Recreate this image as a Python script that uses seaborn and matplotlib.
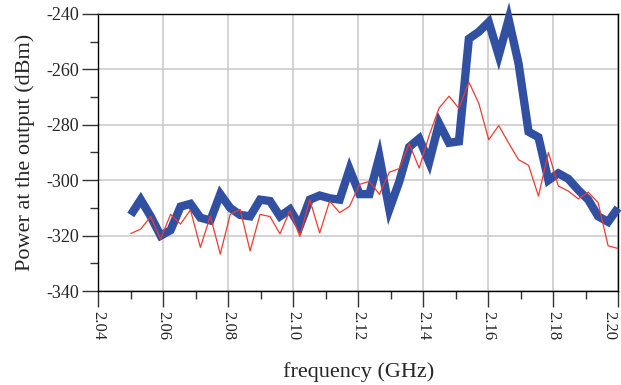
import matplotlib
matplotlib.use("Agg")
import matplotlib.pyplot as plt
import matplotlib.transforms as mtransforms
import seaborn as sns
import pandas as pd
from matplotlib.ticker import MultipleLocator, FormatStrFormatter

freq_ghz = [2.05, 2.05306, 2.05612, 2.05918, 2.06224, 2.06531, 2.06837, 2.07143,
            2.07449, 2.07755, 2.08061, 2.08367, 2.08673, 2.08980, 2.09286, 2.09592,
            2.09898, 2.10204, 2.10510, 2.10816, 2.11122, 2.11429, 2.11735, 2.12041,
            2.12347, 2.12653, 2.12959, 2.13265, 2.13571, 2.13878, 2.14184, 2.14490,
            2.14796, 2.15102, 2.15408, 2.15714, 2.16020, 2.16327, 2.16633, 2.16939,
            2.17245, 2.17551, 2.17857, 2.18163, 2.18469, 2.18776, 2.19082, 2.19388,
            2.19694, 2.20000]

power_blue = [-312.5, -307, -313, -320, -318, -309.5, -308.5, -313.5, -314.5, -305,
              -310, -312.5, -313, -307, -307.5, -313, -310.5, -316.5, -307, -305.5,
              -306.5, -307, -296, -305, -305, -291.5, -310.5, -300.5, -288, -285,
              -293.5, -279.5, -286.5, -286, -249, -246.5, -243, -255, -242, -258,
              -282.5, -284.5, -300, -297.5, -299.5, -303.5, -307, -313, -315, -310]

power_red = [-319.2, -317.6, -313.1, -321.2, -312.3, -315.8, -310.7, -324.2, -312.9, -326.6,
             -312.3, -310.5, -325.5, -312.3, -313.1, -319.3, -311, -320.2, -307, -319,
             -307.5, -311.7, -309.4, -301.5, -300.4, -305.1, -297.1, -295.8, -286.8, -295.6,
             -283.9, -274, -269.7, -274.1, -264.6, -272.3, -285.4, -280.3, -286.6, -292.6,
             -294.6, -305.7, -290, -302.1, -303.9, -306.7, -304.3, -308.1, -323.6, -324.6]

x_ticks = [2.04, 2.06, 2.08, 2.10, 2.12, 2.14, 2.16, 2.18, 2.20]
y_ticks = [-340, -320, -300, -280, -260, -240]

sns.set_style("ticks")
plt.rcParams["font.family"] = ["Liberation Serif", "DejaVu Serif"]
plt.rcParams["axes.unicode_minus"] = False

df = pd.DataFrame({"freq": freq_ghz, "blue": power_blue, "red": power_red})

fig = plt.figure(figsize=(6.21, 3.85), dpi=100)
ax = fig.add_axes([0.1583, 0.2436, 0.9952 - 0.1583, 0.9642 - 0.2436])

sns.lineplot(data=df, x="freq", y="blue", ax=ax, color="#3150a2", linewidth=6.0,
             solid_joinstyle="miter", solid_capstyle="butt", clip_on=False, zorder=3)
sns.lineplot(data=df, x="freq", y="red", ax=ax, color="#ee3a2e", linewidth=0.9, zorder=4)

ax.set_xlim(2.04, 2.20)
ax.set_ylim(-340, -240)
ax.set_xticks(x_ticks)
ax.set_yticks(y_ticks)
ax.xaxis.set_major_formatter(FormatStrFormatter("%.2f"))
ax.xaxis.set_minor_locator(MultipleLocator(0.01))
ax.yaxis.set_minor_locator(MultipleLocator(10))

ax.grid(True, which="major", color="#c8c8c8", linewidth=1.1)
ax.set_axisbelow(True)
for s in ax.spines.values():
    s.set_color("black")
    s.set_linewidth(1.0)

ax.tick_params(axis="both", which="major", direction="out", length=11.5, width=1.0,
               color="#333333", labelsize=13, pad=2.5)
ax.tick_params(axis="x", which="major", labelsize=12)
ax.tick_params(axis="both", which="minor", direction="out", length=6, width=1.0,
               color="#333333")
plt.setp(ax.get_xticklabels(), rotation=270)

# keep the last rotated tick label inside the figure
fig.canvas.draw()
last = ax.get_xticklabels()[-1]
last.set_transform(last.get_transform() +
                   mtransforms.ScaledTranslation(-6 / 72, 0, fig.dpi_scale_trans))

ax.set_xlabel("frequency (GHz)", fontsize=16, labelpad=16)
ax.set_ylabel("Power at the output (dBm)", fontsize=16, labelpad=8)

fig.savefig("out.png", dpi=100)
